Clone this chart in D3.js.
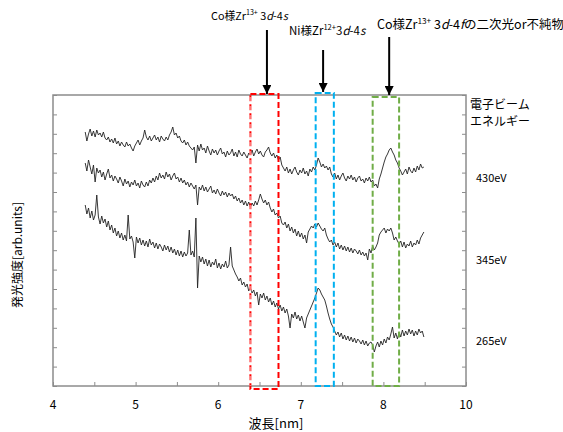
<!DOCTYPE html>
<html>
<head>
<meta charset="utf-8">
<script src="https://cdn.jsdelivr.net/npm/d3@7"></script>
<style>
  body { margin: 0; background: #fff; }
  text { font-family: "Noto Sans CJK JP", "Noto Sans", sans-serif; fill: #000; }
</style>
</head>
<body>
<div id="chart"></div>
<script>
// wavelength grid of the spectra (nm)
const wlStart = 4.39;
const wlStep = 0.02;
const wavelength = d3.range(206).map((i) => +(wlStart + i * wlStep).toFixed(2));

// emission intensity, arb. units
const beam430 = [
  254, 245, 252, 257, 250, 255, 249, 256, 251, 253,
  249, 254, 248, 246, 249, 244, 247, 243, 248, 242,
  245, 240, 244, 241, 239, 244, 240, 242, 238, 235,
  240, 243, 246, 241, 245, 248, 256, 249, 246, 250,
  245, 248, 251, 246, 249, 244, 250, 247, 245, 249,
  246, 251, 254, 259, 251, 253, 248, 250, 245, 243,
  246, 241, 244, 240, 238, 236, 239, 223, 241, 235,
  242, 236, 238, 233, 240, 235, 231, 237, 233, 236,
  231, 235, 238, 232, 234, 229, 235, 231, 233, 237,
  230, 234, 229, 236, 232, 230, 234, 231, 228, 233,
  231, 236, 230, 234, 237, 232, 235, 231, 229, 234,
  236, 239, 233, 230, 233, 228, 231, 226, 229, 221,
  218, 215, 219, 213, 217, 212, 216, 219, 214, 211,
  216, 213, 218, 212, 215, 210, 217, 214, 219, 216,
  221, 228, 224, 219, 222, 218, 220, 216, 219, 212,
  209, 213, 207, 211, 206, 210, 213, 208, 205, 210,
  207, 211, 206, 209, 204, 208, 210, 205, 207, 203,
  208, 205, 209, 204, 206, 200, 202, 198, 207, 212,
  218, 224, 229, 232, 236, 238, 234, 231, 226, 223,
  218, 215, 211, 214, 217, 212, 219, 215, 213, 218,
  214, 220, 216, 222, 218, 219
];
const beam345 = [
  223, 215, 226, 219, 212, 221, 204, 218, 213, 216,
  209, 214, 206, 212, 217, 208, 211, 205, 210, 207,
  203, 209, 205, 200, 207, 202, 205, 199, 204, 201,
  206, 200, 203, 198, 205, 201, 199, 204, 200, 206,
  203, 208, 204, 210, 206, 213, 208, 211, 207, 214,
  209, 212, 206, 210, 213, 207, 209, 204, 208, 203,
  206, 201, 204, 199, 203, 200, 197, 201, 181, 199,
  196, 201, 195, 199, 194, 197, 200, 193, 196, 192,
  197, 193, 190, 195, 191, 194, 189, 193, 190, 192,
  187, 190, 185, 188, 183, 186, 181, 185, 180, 184,
  179, 183, 180, 185, 181, 186, 192, 187, 183, 186,
  181, 184, 178, 174, 177, 171, 173, 168, 170, 163,
  161, 164, 158, 162, 155, 159, 153, 157, 150, 155,
  149, 153, 147, 151, 143, 154, 157, 160, 158, 162,
  159, 163, 160, 157, 155, 158, 151, 147, 144, 146,
  141, 144, 139, 143, 137, 141, 136, 140, 135, 139,
  134, 138, 133, 137, 135, 132, 136, 131, 134, 130,
  133, 126, 137, 133, 140, 136, 139, 143, 151, 154,
  156, 158, 153, 157, 155, 158, 153, 146, 149, 145,
  142, 145, 139, 144, 138, 142, 140, 145, 139, 143,
  141, 146, 142, 148, 151, 154
];
const beam265 = [
  181, 172, 178, 168, 175, 166, 171, 191, 169, 162,
  170, 163, 167, 159, 165, 156, 161, 153, 158, 150,
  155, 148, 153, 146, 151, 145, 171, 147, 150, 144,
  128, 149, 143, 148, 141, 146, 140, 145, 139, 147,
  141, 144, 138, 143, 137, 142, 139, 135, 141, 136,
  140, 134, 139, 133, 137, 131, 136, 130, 135, 129,
  134, 130, 133, 156, 131, 135, 129, 168, 98, 130,
  124, 129, 122, 127, 120, 126, 119, 124, 121, 127,
  118, 123, 117, 122, 119, 125, 118, 121, 139, 120,
  116, 112, 109, 105, 108, 101, 104, 99, 102, 95,
  98, 93, 96, 90, 94, 81, 92, 88, 93, 86,
  90, 84, 88, 81, 85, 79, 83, 77, 81, 75,
  79, 73, 77, 70, 58, 72, 68, 74, 67, 71,
  65, 70, 64, 58, 68, 72, 76, 80, 84, 88,
  93, 98, 96, 92, 89, 86, 80, 73, 67, 62,
  59, 55, 51, 54, 49, 53, 47, 51, 46, 50,
  45, 49, 44, 48, 43, 47, 45, 42, 46, 41,
  45, 40, 43, 44, 41, 34, 40, 44, 39, 45,
  41, 47, 43, 49, 46, 52, 59, 48, 53, 47,
  54, 49, 56, 50, 55, 51, 57, 52, 56, 50,
  55, 51, 57, 53, 55, 49
];

const seriesNames = ["430eV", "345eV", "265eV"];
const seriesLabelY = [208, 126, 45];

// highlighted wavelength windows (nm)
const bandNames = ["Co-3d4s", "Ni-3d4s", "Co-3d4f"];
const bandFrom = [6.39, 7.18, 7.87];
const bandTo = [6.73, 7.40, 8.19];
const bandColors = ["#ff0000", "#00b0f0", "#70ad47"];

// axis ticks
const xMinorTicks = d3.range(4, 9.01, 0.5);
const xLabelValues = [4, 5, 6, 7, 8, 9];
const xTickLabels = ["4", "5", "6", "7", "8", "10"];
const yMax = 291;
const yTicks = d3.range(0, yMax + 1, yMax / 15);

const width = 563;
const height = 432;
const box = { left: 53, right: 466, top: 95, bottom: 386 };

const x = d3.scaleLinear().domain([4, 9]).range([box.left, box.right]);
const y = d3.scaleLinear().domain([0, yMax]).range([box.bottom, box.top]);

const svg = d3
  .select("#chart")
  .append("svg")
  .attr("width", width)
  .attr("height", height);

svg.append("defs")
  .append("marker")
  .attr("id", "head")
  .attr("viewBox", "0 0 10 10")
  .attr("refX", 10)
  .attr("refY", 5)
  .attr("markerWidth", 4.5)
  .attr("markerHeight", 4.5)
  .attr("markerUnits", "strokeWidth")
  .attr("orient", "auto")
  .append("path")
  .attr("d", "M0,0 L10,5 L0,10 z")
  .attr("fill", "#000");

// frame + ticks
const axisColor = "#8c8c8c";
function styleAxis(g) {
  g.select(".domain").remove();
  g.selectAll(".tick line").attr("stroke", axisColor).attr("stroke-width", 1);
}
svg.append("g")
  .attr("transform", `translate(${box.left},0)`)
  .call(d3.axisLeft(y).tickValues(yTicks).tickSize(-4).tickFormat(""))
  .call(styleAxis);
svg.append("g")
  .attr("transform", `translate(${box.right},0)`)
  .call(d3.axisRight(y).tickValues(yTicks).tickSize(-4).tickFormat(""))
  .call(styleAxis);
svg.append("g")
  .attr("transform", `translate(0,${box.bottom})`)
  .call(d3.axisBottom(x).tickValues(xMinorTicks).tickSize(-4).tickFormat(""))
  .call(styleAxis);

svg.append("rect")
  .attr("x", box.left)
  .attr("y", box.top)
  .attr("width", box.right - box.left)
  .attr("height", box.bottom - box.top)
  .attr("fill", "none")
  .attr("stroke", axisColor)
  .attr("stroke-width", 1.5);

svg.append("g")
  .selectAll("text")
  .data(xLabelValues)
  .join("text")
  .attr("x", (d) => x(d))
  .attr("y", 409)
  .attr("text-anchor", "middle")
  .attr("font-size", 12)
  .text((d, i) => xTickLabels[i]);

// spectra
const line = d3
  .line()
  .x((d, i) => x(wavelength[i]))
  .y((d) => y(d));

svg.append("g")
  .selectAll("path")
  .data([beam430, beam345, beam265])
  .join("path")
  .attr("d", line)
  .attr("fill", "none")
  .attr("stroke", "#222")
  .attr("stroke-width", 0.9)
  .attr("stroke-linejoin", "round");

// dashed windows
const bands = svg.append("g").attr("fill", "none").attr("stroke-width", 2).attr("stroke-dasharray", "6,3");
const bandTop = [292, 293, 289];
const bandBottom = [-3, 0, 0];
bandNames.forEach(function (name, i) {
  bands.append("rect")
    .attr("x", x(bandFrom[i]))
    .attr("y", y(bandTop[i]))
    .attr("width", x(bandTo[i]) - x(bandFrom[i]))
    .attr("height", y(bandBottom[i]) - y(bandTop[i]))
    .attr("stroke", bandColors[i]);
});
// the left red edge is paler in the original
bands.append("line")
  .attr("x1", x(bandFrom[0]))
  .attr("x2", x(bandFrom[0]))
  .attr("y1", y(bandTop[0]) + 3)
  .attr("y2", y(bandBottom[0]) - 3)
  .attr("stroke", "#ffffff")
  .attr("stroke-width", 2)
  .attr("stroke-dasharray", null)
  .attr("opacity", 0.45);

// right-hand labels
svg.append("text").attr("x", 470).attr("y", 109).attr("font-size", 12).text("電子ビーム");
svg.append("text").attr("x", 470).attr("y", 126).attr("font-size", 12).text("エネルギー");
svg.append("g")
  .selectAll("text")
  .data(seriesNames)
  .join("text")
  .attr("x", 476)
  .attr("y", (d, i) => y(seriesLabelY[i]) + 4)
  .attr("font-size", 11)
  .text((d) => d);

// axis titles
svg.append("text")
  .attr("x", 276)
  .attr("y", 428)
  .attr("text-anchor", "middle")
  .attr("font-size", 13)
  .text("波長[nm]");
svg.append("text")
  .attr("transform", "translate(22,255) rotate(-90)")
  .attr("text-anchor", "middle")
  .attr("font-size", 12)
  .text("発光強度[arb.units]");

// annotations with arrows
function label(xp, yp, size, parts) {
  const t = svg.append("text").attr("x", xp).attr("y", yp).attr("font-size", size);
  parts.forEach(function (p) {
    const s = t.append("tspan").text(p.t);
    if (p.sup) s.attr("font-size", size * 0.66).attr("dy", -5);
    if (p.down) s.attr("dy", 5);
    if (p.it) s.attr("font-style", "italic");
  });
}
label(211, 20, 10.8, [
  { t: "Co様Zr" }, { t: "13+", sup: true }, { t: " 3", down: true }, { t: "d", it: true }, { t: "-4" }, { t: "s", it: true }
]);
label(289, 35, 11.5, [
  { t: "Ni様Zr" }, { t: "12+", sup: true }, { t: "3", down: true }, { t: "d", it: true }, { t: "-4" }, { t: "s", it: true }
]);
label(377, 29, 12.5, [
  { t: "Co様Zr" }, { t: "13+", sup: true }, { t: " 3", down: true }, { t: "d", it: true }, { t: "-4" }, { t: "f", it: true }, { t: "の二次光or不純物" }
]);

const arrowX = [6.59, 7.27, 8.07];
const arrowFrom = [30, 50, 37];
const arrowTo = [94, 92, 95];
svg.append("g")
  .selectAll("line")
  .data(arrowX)
  .join("line")
  .attr("x1", (d) => x(d))
  .attr("x2", (d) => x(d))
  .attr("y1", (d, i) => arrowFrom[i])
  .attr("y2", (d, i) => arrowTo[i])
  .attr("stroke", "#000")
  .attr("stroke-width", 2)
  .attr("marker-end", "url(#head)");
</script>
</body>
</html>
